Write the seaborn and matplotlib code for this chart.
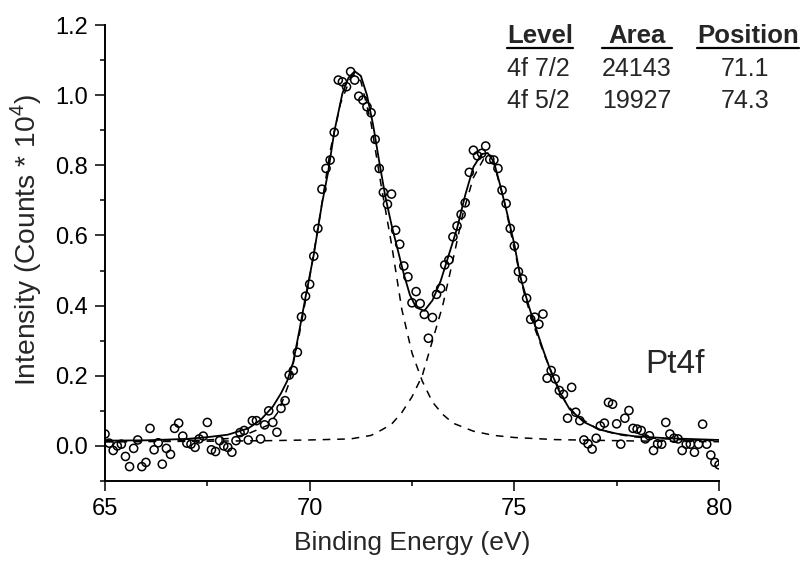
import matplotlib
matplotlib.use("Agg")
import matplotlib.pyplot as plt
from matplotlib.lines import Line2D
from matplotlib.ticker import MultipleLocator
import seaborn as sns
import pandas as pd

# ---------------- data ----------------
energy_pts = [65.0, 65.1, 65.2, 65.3, 65.4, 65.5, 65.6, 65.7, 65.8, 65.9,
              66.0, 66.1, 66.2, 66.3, 66.4, 66.5, 66.6, 66.7, 66.8, 66.9,
              67.0, 67.1, 67.2, 67.3, 67.4, 67.5, 67.6, 67.7, 67.8, 67.9,
              68.0, 68.1, 68.2, 68.3, 68.4, 68.5, 68.6, 68.7, 68.8, 68.9,
              69.0, 69.1, 69.2, 69.3, 69.4, 69.5, 69.6, 69.7, 69.8, 69.9,
              70.0, 70.1, 70.2, 70.3, 70.4, 70.5, 70.6, 70.7, 70.8, 70.9,
              71.0, 71.1, 71.2, 71.3, 71.4, 71.5, 71.6, 71.7, 71.8, 71.9,
              72.0, 72.1, 72.2, 72.3, 72.4, 72.5, 72.6, 72.7, 72.8, 72.9,
              73.0, 73.1, 73.2, 73.3, 73.4, 73.5, 73.6, 73.7, 73.8, 73.9,
              74.0, 74.1, 74.2, 74.3, 74.4, 74.5, 74.6, 74.7, 74.8, 74.9,
              75.0, 75.1, 75.2, 75.3, 75.4, 75.5, 75.6, 75.7, 75.8, 75.9,
              76.0, 76.1, 76.2, 76.3, 76.4, 76.5, 76.6, 76.7, 76.8, 76.9,
              77.0, 77.1, 77.2, 77.3, 77.4, 77.5, 77.6, 77.7, 77.8, 77.9,
              78.0, 78.1, 78.2, 78.3, 78.4, 78.5, 78.6, 78.7, 78.8, 78.9,
              79.0, 79.1, 79.2, 79.3, 79.4, 79.5, 79.6, 79.7, 79.8, 79.9,
              80.0]
intensity_pts = [0.034, 0.008, -0.013, 0.000, 0.005, -0.030, -0.059, -0.007, 0.017, -0.059,
                 -0.047, 0.050, -0.011, 0.009, -0.052, -0.007, -0.024, 0.050, 0.065, 0.028,
                 0.008, 0.005, -0.004, 0.020, 0.028, 0.067, -0.011, -0.016, 0.015, 0.000,
                 -0.004, -0.018, 0.015, 0.038, 0.044, 0.017, 0.072, 0.072, 0.020, 0.060,
                 0.100, 0.067, 0.039, 0.107, 0.129, 0.202, 0.215, 0.267, 0.368, 0.427,
                 0.461, 0.541, 0.620, 0.732, 0.791, 0.815, 0.894, 1.043, 1.038, 1.024,
                 1.067, 1.043, 0.997, 0.986, 0.967, 0.950, 0.874, 0.791, 0.723, 0.689,
                 0.718, 0.615, 0.575, 0.513, 0.482, 0.408, 0.440, 0.406, 0.375, 0.307,
                 0.366, 0.432, 0.449, 0.516, 0.530, 0.596, 0.627, 0.660, 0.693, 0.780,
                 0.843, 0.827, 0.834, 0.855, 0.817, 0.815, 0.791, 0.729, 0.691, 0.620,
                 0.570, 0.497, 0.476, 0.421, 0.361, 0.367, 0.347, 0.376, 0.193, 0.215,
                 0.191, 0.158, 0.147, 0.079, 0.167, 0.096, 0.072, 0.017, 0.006, -0.009,
                 0.022, 0.057, 0.065, 0.124, 0.119, 0.063, 0.005, 0.079, 0.101, 0.050,
                 0.048, 0.044, 0.020, 0.029, -0.013, 0.006, 0.005, 0.067, 0.034, 0.022,
                 0.020, -0.013, 0.005, 0.005, -0.018, 0.005, 0.062, 0.005, -0.026, -0.047,
                 -0.054]

# total fit envelope (solid line)
fit_energy = [65.0, 66.0, 67.0, 67.5, 68.0, 68.5, 68.8, 69.1, 69.3, 69.45,
              69.6, 69.75, 69.9, 70.1, 70.3, 70.45, 70.6, 70.8, 70.95, 71.1,
              71.25, 71.4, 71.55, 71.7, 71.85, 72.0, 72.15, 72.3, 72.45, 72.6,
              72.8, 73.0, 73.2, 73.4, 73.6, 73.8, 74.0, 74.2, 74.35, 74.5,
              74.65, 74.8, 75.0, 75.15, 75.35, 75.5, 75.7, 75.9, 76.1, 76.35,
              76.7, 77.1, 77.5, 77.9, 78.7, 80.0]
fit_total = [0.015, 0.016, 0.020, 0.025, 0.032, 0.050, 0.074, 0.112, 0.150, 0.185,
             0.240, 0.330, 0.425, 0.545, 0.690, 0.780, 0.895, 1.005, 1.050, 1.068,
             1.055, 1.000, 0.915, 0.810, 0.710, 0.630, 0.560, 0.490, 0.430, 0.395,
             0.385, 0.415, 0.470, 0.545, 0.620, 0.715, 0.795, 0.832, 0.835, 0.810,
             0.745, 0.675, 0.575, 0.480, 0.400, 0.345, 0.275, 0.210, 0.155, 0.105,
             0.068, 0.046, 0.035, 0.028, 0.022, 0.017]

# component 4f 7/2 (dashed)
c1_energy = [65.0, 66.0, 67.0, 67.5, 68.0, 68.5, 69.0, 69.25, 69.5, 69.75,
             70.0, 70.25, 70.5, 70.75, 71.0, 71.1, 71.25, 71.5, 71.75, 72.0,
             72.25, 72.5, 72.75, 73.0, 73.25, 73.5, 74.0, 74.5, 75.0, 76.0,
             77.0, 78.0, 80.0]
c1_int = [0.012, 0.013, 0.015, 0.017, 0.021, 0.035, 0.060, 0.100, 0.180, 0.320,
          0.480, 0.655, 0.840, 0.975, 1.050, 1.058, 1.040, 0.920, 0.740, 0.575,
          0.390, 0.265, 0.185, 0.125, 0.090, 0.065, 0.042, 0.030, 0.024, 0.018,
          0.016, 0.014, 0.012]

# component 4f 5/2 (dashed)
c2_energy = [65.0, 67.0, 69.0, 70.0, 71.0, 71.5, 71.75, 72.0, 72.25, 72.5,
             72.75, 73.0, 73.25, 73.5, 73.75, 74.0, 74.25, 74.5, 74.75, 75.0,
             75.25, 75.5, 75.75, 76.0, 76.25, 76.5, 77.0, 77.5, 78.0, 79.0,
             80.0]
c2_int = [0.012, 0.013, 0.015, 0.017, 0.020, 0.030, 0.045, 0.062, 0.095, 0.140,
          0.200, 0.300, 0.400, 0.530, 0.665, 0.765, 0.818, 0.805, 0.700, 0.560,
          0.430, 0.335, 0.255, 0.185, 0.125, 0.088, 0.050, 0.033, 0.025, 0.018,
          0.015]

table_header = ["Level", "Area", "Position"]
table_levels = ["4f 7/2", "4f 5/2"]
table_areas = ["24143", "19927"]
table_positions = ["71.1", "74.3"]

x_ticks = [65, 70, 75, 80]
y_ticks = [0.0, 0.2, 0.4, 0.6, 0.8, 1.0, 1.2]

# ---------------- figure ----------------
sns.set_theme(style="ticks")
plt.rcParams["font.family"] = ["Liberation Sans", "DejaVu Sans"]
plt.rcParams["mathtext.fontset"] = "custom"
plt.rcParams["mathtext.rm"] = "Liberation Sans"

W, H = 804, 566
fig = plt.figure(figsize=(W / 100, H / 100), dpi=100)
ax = fig.add_axes([105 / W, 85 / H, 614 / W, 456 / H])

df_pts = pd.DataFrame({"E": energy_pts, "I": intensity_pts})
df_fit = pd.DataFrame({"E": fit_energy, "I": fit_total})
df_c1 = pd.DataFrame({"E": c1_energy, "I": c1_int})
df_c2 = pd.DataFrame({"E": c2_energy, "I": c2_int})

for d in (df_c1, df_c2):
    sns.lineplot(data=d, x="E", y="I", ax=ax, color="black", lw=1.1,
                 estimator=None, sort=False, linestyle=(0, (5, 4.5)))
sns.lineplot(data=df_fit, x="E", y="I", ax=ax, color="black", lw=1.3,
             estimator=None, sort=False)
sns.scatterplot(data=df_pts, x="E", y="I", ax=ax, marker="o", s=34,
                facecolor="none", edgecolor="black", linewidth=1.1, zorder=5,
                clip_on=True)

ax.set_xlim(65, 80)
ax.set_ylim(-0.1, 1.2)
ax.set_xticks(x_ticks)
ax.set_yticks(y_ticks)
ax.set_yticklabels([f"{v:.1f}" for v in y_ticks])
ax.xaxis.set_minor_locator(MultipleLocator(2.5))
ax.yaxis.set_minor_locator(MultipleLocator(0.1))
ax.tick_params(which="major", direction="out", length=7, width=1.1,
               labelsize=17, color="black", labelcolor="black", pad=5)
ax.tick_params(which="minor", direction="out", length=3.6, width=1.1, color="black")
for side in ("top", "right"):
    ax.spines[side].set_visible(False)
for side in ("left", "bottom"):
    ax.spines[side].set_linewidth(1.4)
    ax.spines[side].set_color("black")

ax.set_xlabel("Binding Energy (eV)", fontsize=19, labelpad=8)
ax.set_ylabel("Intensity (Counts * 10$^{4}$)", fontsize=20.3)
ax.yaxis.set_label_coords((44 - 105) / 614, (481 - 240) / 456)

# Pt4f label
fig.text(645 / W, 1 - 373 / H, "Pt4f", fontsize=24, va="baseline", ha="left")

# table
def fy(y):
    return 1 - y / H

hdr_y = 43
fig.text(507 / W, fy(hdr_y), table_header[0], fontsize=18.5, fontweight="bold",
         va="baseline", ha="left")
fig.text(637 / W, fy(hdr_y), table_header[1], fontsize=18.5, fontweight="bold",
         va="baseline", ha="center")
fig.text(748 / W, fy(hdr_y), table_header[2], fontsize=18.5, fontweight="bold",
         va="baseline", ha="center")
for (x0, x1) in [(507, 573), (602, 672), (697, 799)]:
    fig.add_artist(Line2D([x0 / W, x1 / W], [fy(48), fy(48)], color="black",
                          lw=1.6, transform=fig.transFigure))
for i, yb in enumerate([76, 108]):
    fig.text(507 / W, fy(yb), table_levels[i], fontsize=18, va="baseline", ha="left")
    fig.text(637 / W, fy(yb), table_areas[i], fontsize=18, va="baseline", ha="center")
    fig.text(745 / W, fy(yb), table_positions[i], fontsize=18, va="baseline", ha="center")

fig.savefig("out.png", dpi=100)
